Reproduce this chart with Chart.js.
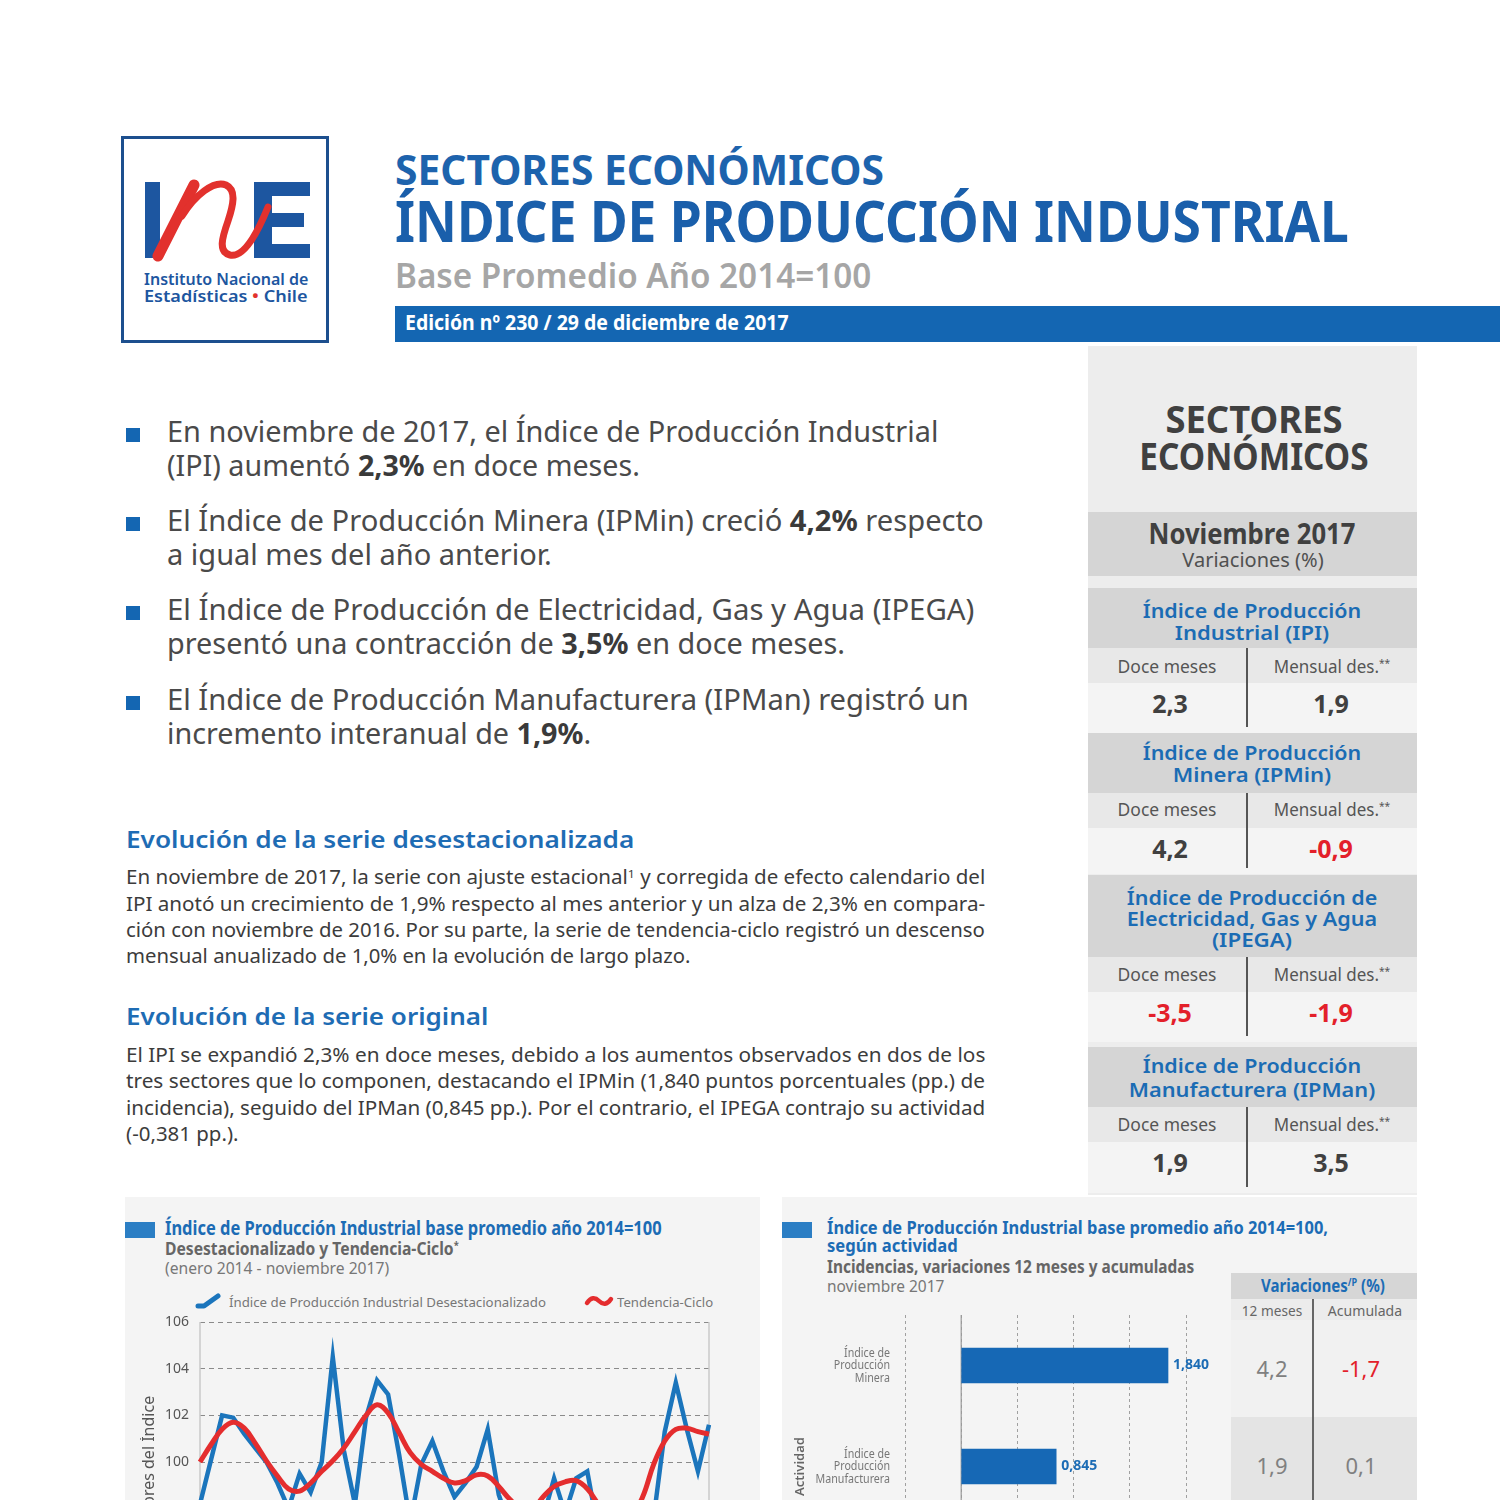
<!DOCTYPE html>
<html lang="es">
<head>
<meta charset="UTF-8">
<title>Índice de Producción Industrial</title>
<script src="https://cdn.jsdelivr.net/npm/chart.js"></script>
<style>
  body { margin: 0; width: 1500px; height: 1500px; overflow: hidden; background: #fff; position: relative;
         font-family: "Noto Sans", "Open Sans", sans-serif; }
  .t { position: absolute; white-space: nowrap; line-height: 0.85; transform-origin: 0 0; }
  .c { transform-origin: 50% 0; }
  .n { font-stretch: condensed; }
  .box { position: absolute; }
  .sup { font-size: 60%; vertical-align: 0.55em; line-height: 0; }
  .panel { position: absolute; background: #f4f4f4; }
</style>
</head>
<body>

<!-- logo -->
<svg class="box" style="left:0;top:0" width="340" height="350">
  <rect x="122.5" y="137.5" width="205" height="204" fill="#fff" stroke="#1d4f8e" stroke-width="3"/>
  <rect x="145" y="182" width="15" height="76" fill="#1d56a0"/>
  <rect x="254" y="182" width="18" height="76" fill="#1d56a0"/>
  <rect x="254" y="182" width="56" height="14" fill="#1d56a0"/>
  <rect x="254" y="213" width="50" height="14" fill="#1d56a0"/>
  <rect x="254" y="244" width="56" height="14" fill="#1d56a0"/>
  <path d="M158 256 L194 185" stroke="#e2312d" stroke-width="11" stroke-linecap="round" fill="none"/>
  <path d="M182 216 C195 195 214 180 226 185 C237 190 233 206 228 221 C222 238 218 252 230 255 C245 258 259 229 268 207"
        stroke="#e2312d" stroke-width="7" stroke-linecap="round" fill="none"/>
</svg>
<div class="t n" style="left:144px;font-size:16px;font-weight:600;color:#1d56a0" data-b="286" data-w="164">Instituto Nacional de</div>
<div class="t n" style="left:144px;font-size:16px;font-weight:600;color:#1d56a0" data-b="303" data-w="164">Estadísticas <span style="color:#e2312d">•</span> Chile</div>

<!-- cabecera -->
<div class="t n" style="left:395px;font-size:42px;font-weight:700;color:#1d63ad" data-b="185" data-w="489">SECTORES ECONÓMICOS</div>
<div class="t n" style="left:395px;font-size:57px;font-weight:700;color:#1a5fab" data-b="242" data-w="954">ÍNDICE DE PRODUCCIÓN INDUSTRIAL</div>
<div class="t n" style="left:395px;font-size:35px;font-weight:600;color:#a6a6a6" data-b="288" data-w="476">Base Promedio Año 2014=100</div>
<div class="box" style="left:395px;top:306px;width:1105px;height:36px;background:#1466b2"></div>
<div class="t n" style="left:405px;font-size:21px;font-weight:700;color:#fff" data-b="331" data-w="384">Edición nº 230 / 29 de diciembre de 2017</div>

<!-- puntos destacados -->
<div class="box" style="left:126px;top:428px;width:14px;height:14px;background:#1466b2"></div>
<div class="box" style="left:126px;top:517px;width:14px;height:14px;background:#1466b2"></div>
<div class="box" style="left:126px;top:606px;width:14px;height:14px;background:#1466b2"></div>
<div class="box" style="left:126px;top:696px;width:14px;height:14px;background:#1466b2"></div>
<div class="t n" style="left:167px;font-size:29px;color:#4a4a4a" data-b="443" data-w="771">En noviembre de 2017, el Índice de Producción Industrial</div>
<div class="t n" style="left:167px;font-size:29px;color:#4a4a4a" data-b="477" data-w="473">(IPI) aumentó <b style="color:#3a3a3a">2,3%</b> en doce meses.</div>
<div class="t n" style="left:167px;font-size:29px;color:#4a4a4a" data-b="532" data-w="817">El Índice de Producción Minera (IPMin) creció <b style="color:#3a3a3a">4,2%</b> respecto</div>
<div class="t n" style="left:167px;font-size:29px;color:#4a4a4a" data-b="566" data-w="385">a igual mes del año anterior.</div>
<div class="t n" style="left:167px;font-size:29px;color:#4a4a4a" data-b="621" data-w="807">El Índice de Producción de Electricidad, Gas y Agua (IPEGA)</div>
<div class="t n" style="left:167px;font-size:29px;color:#4a4a4a" data-b="655" data-w="678">presentó una contracción de <b style="color:#3a3a3a">3,5%</b> en doce meses.</div>
<div class="t n" style="left:167px;font-size:29px;color:#4a4a4a" data-b="711" data-w="802">El Índice de Producción Manufacturera (IPMan) registró un</div>
<div class="t n" style="left:167px;font-size:29px;color:#4a4a4a" data-b="745" data-w="424">incremento interanual de <b style="color:#3a3a3a">1,9%</b>.</div>

<!-- textos -->
<div class="t n" style="left:126px;font-size:24px;font-weight:600;color:#1e6cb4" data-b="849" data-w="508">Evolución de la serie desestacionalizada</div>
<div class="t n" style="left:126px;font-size:19px;color:#3c3c3c" data-b="884" data-w="859">En noviembre de 2017, la serie con ajuste estacional<span class="sup">1</span> y corregida de efecto calendario del</div>
<div class="t n" style="left:126px;font-size:19px;color:#3c3c3c" data-b="911" data-w="859">IPI anotó un crecimiento de 1,9% respecto al mes anterior y un alza de 2,3% en compara-</div>
<div class="t n" style="left:126px;font-size:19px;color:#3c3c3c" data-b="937" data-w="859">ción con noviembre de 2016. Por su parte, la serie de tendencia-ciclo registró un descenso</div>
<div class="t n" style="left:126px;font-size:19px;color:#3c3c3c" data-b="963" data-w="564">mensual anualizado de 1,0% en la evolución de largo plazo.</div>

<div class="t n" style="left:126px;font-size:24px;font-weight:600;color:#1e6cb4" data-b="1026" data-w="362">Evolución de la serie original</div>
<div class="t n" style="left:126px;font-size:19px;color:#3c3c3c" data-b="1062" data-w="859">El IPI se expandió 2,3% en doce meses, debido a los aumentos observados en dos de los</div>
<div class="t n" style="left:126px;font-size:19px;color:#3c3c3c" data-b="1088" data-w="859">tres sectores que lo componen, destacando el IPMin (1,840 puntos porcentuales (pp.) de</div>
<div class="t n" style="left:126px;font-size:19px;color:#3c3c3c" data-b="1115" data-w="859">incidencia), seguido del IPMan (0,845 pp.). Por el contrario, el IPEGA contrajo su actividad</div>
<div class="t n" style="left:126px;font-size:19px;color:#3c3c3c" data-b="1141" data-w="113">(-0,381 pp.).</div>

<!-- columna derecha -->
<div class="box" style="left:1088px;top:346px;width:329px;height:849px;background:#ededed"></div>
<div class="t c" style="left:1254px;font-size:37px;font-weight:700;color:#404040" data-b="433" data-w="177">SECTORES</div>
<div class="t c" style="left:1254px;font-size:37px;font-weight:700;color:#404040" data-b="470" data-w="229">ECONÓMICOS</div>

<div class="box" style="left:1088px;top:512px;width:329px;height:64px;background:#d5d5d5"></div>
<div class="t c" style="left:1252px;font-size:28px;font-weight:700;color:#404040" data-b="545" data-w="207">Noviembre 2017</div>
<div class="t c" style="left:1253px;font-size:19px;color:#505050" data-b="567" data-w="141">Variaciones (%)</div>

<div id="resumen"></div>

<!-- graficos -->
<div class="panel" style="left:125px;top:1197px;width:635px;height:303px"></div>
<div class="panel" style="left:782px;top:1197px;width:635px;height:303px"></div>

<div class="box" style="left:125px;top:1222px;width:30px;height:16px;background:#2b7ec4"></div>
<div class="t n" style="left:165px;font-size:19px;font-weight:700;color:#1c6cb5" data-b="1235" data-w="497">Índice de Producción Industrial base promedio año 2014=100</div>
<div class="t n" style="left:165px;font-size:18px;font-weight:700;color:#666" data-b="1256" data-w="294">Desestacionalizado y Tendencia-Ciclo<span class="sup">*</span></div>
<div class="t n" style="left:165px;font-size:16px;color:#777" data-b="1275" data-w="224">(enero 2014 - noviembre 2017)</div>
<svg class="box" style="left:190px;top:1290px" width="440" height="24">
  <path d="M8 16 L14 16 L28 6" stroke="#1b75bc" stroke-width="5" stroke-linecap="round" stroke-linejoin="round" fill="none"/>
  <path d="M397 13 C401 7 405 7 409 11 C413 15 417 15 421 9" stroke="#e42d2e" stroke-width="4.5" stroke-linecap="round" fill="none"/>
</svg>
<div class="t n" style="left:229px;font-size:13px;color:#777" data-b="1308" data-w="317">Índice de Producción Industrial Desestacionalizado</div>
<div class="t n" style="left:617px;font-size:13px;color:#777" data-b="1308" data-w="96">Tendencia-Ciclo</div>
<div class="box" style="left:140px;top:1310px;width:580px;height:310px"><canvas id="lineChart"></canvas></div>

<div class="box" style="left:782px;top:1222px;width:30px;height:16px;background:#2b7ec4"></div>
<div class="t n" style="left:827px;font-size:17px;font-weight:700;color:#1c6cb5" data-b="1235" data-w="501">Índice de Producción Industrial base promedio año 2014=100,</div>
<div class="t n" style="left:827px;font-size:17px;font-weight:700;color:#1c6cb5" data-b="1253" data-w="131">según actividad</div>
<div class="t n" style="left:827px;font-size:18px;font-weight:700;color:#666" data-b="1274" data-w="367">Incidencias, variaciones 12 meses y acumuladas</div>
<div class="t n" style="left:827px;font-size:16px;color:#777" data-b="1293" data-w="117">noviembre 2017</div>

<div class="box" style="left:1231px;top:1273px;width:186px;height:26px;background:#d6d6d6"></div>
<div class="box" style="left:1231px;top:1299px;width:186px;height:21px;background:#ececec"></div>
<div class="t n" style="left:1261px;font-size:17px;font-weight:700;color:#1c6cb5" data-b="1293" data-w="124">Variaciones<span class="sup">/P</span> (%)</div>
<div class="t n c" style="left:1272px;font-size:15px;color:#666" data-b="1316" data-w="60">12 meses</div>
<div class="t n c" style="left:1365px;font-size:15px;color:#666" data-b="1316" data-w="74">Acumulada</div>
<div id="tablaVar"></div>
<div class="box" style="left:790px;top:1305px;width:430px;height:340px"><canvas id="barChart"></canvas></div>

<script>
// serie mensual, enero 2014 - noviembre 2017
const mesesAbrev = ['ene', 'feb', 'mar', 'abr', 'may', 'jun', 'jul', 'ago', 'sep', 'oct', 'nov', 'dic'];
const anios = ['2014', '2015', '2016', '2017'];
const desestacionalizado = [
  98.2, 100.1, 102.0, 101.9, 101.2, 100.6, 100.0, 99.1, 98.0, 99.5, 98.7, 100.0,
  104.5, 100.5, 98.2, 101.9, 103.5, 102.9, 100.3, 97.4, 99.9, 100.9, 99.6, 98.5,
  99.1, 99.8, 101.4, 98.6, 97.2, 97.5, 96.9, 97.6, 99.3, 97.8, 99.3, 99.6,
  97.0, 96.6, 97.3, 96.9, 97.8, 97.6, 101.3, 103.4, 101.4, 99.6, 101.6
];
const tendenciaCiclo = [
  100.0, 100.75, 101.4, 101.7, 101.45, 100.8, 100.05, 99.4, 98.85, 98.75, 99.1, 99.6,
  100.05, 100.6, 101.3, 102.0, 102.45, 102.1, 101.25, 100.4, 99.9, 99.6, 99.3, 99.1,
  99.2, 99.45, 99.4, 98.95, 98.4, 98.0, 97.95, 98.5, 98.95, 99.15, 99.2, 98.85,
  98.2, 97.7, 97.5, 97.7, 98.5, 99.9, 100.9, 101.4, 101.45, 101.3, 101.2
];
const ticksIndice = [94, 96, 98, 100, 102, 104, 106];

// incidencias por actividad, noviembre 2017
const actividades = [
  ['Índice de', 'Producción', 'Minera'],
  ['Índice de', 'Producción', 'Manufacturera'],
  ['Índice de', 'Producción de', 'Electricidad, Gas', 'y Agua']
];
const incidencias = [1.840, 0.845, -0.381];
const ticksIncidencia = [-0.5, 0, 0.5, 1, 1.5, 2];
const variacion12 = ['4,2', '1,9'];
const acumulada = ['-1,7', '0,1'];

// cuadro lateral
const indices = [
  { titulo: ['Índice de Producción', 'Industrial (IPI)'], anchos: [219, 154], doce: '2,3', mensual: '1,9' },
  { titulo: ['Índice de Producción', 'Minera (IPMin)'], anchos: [219, 158], doce: '4,2', mensual: '-0,9' },
  { titulo: ['Índice de Producción de', 'Electricidad, Gas y Agua', '(IPEGA)'], anchos: [251, 251, 80], doce: '-3,5', mensual: '-1,9' },
  { titulo: ['Índice de Producción', 'Manufacturera (IPMan)'], anchos: [219, 246], doce: '1,9', mensual: '3,5' }
];
const bloques = [
  { top: 588, head: 60, lineas: [618, 640], lab: 674, val: 713, fin: 733 },
  { top: 733, head: 60, lineas: [760, 782], lab: 817, val: 858, fin: 874 },
  { top: 875, head: 82, lineas: [905, 926, 947], lab: 982, val: 1022, fin: 1042 },
  { top: 1047, head: 60, lineas: [1073, 1097], lab: 1132, val: 1172, fin: 1193 }
];

const AZUL = '#1b75bc';
const ROJO = '#e42d2e';
const FUENTE = '"Noto Sans", "Open Sans", sans-serif';

function txt(parent, html, left, base, w, css, centrado) {
  const d = document.createElement('div');
  d.className = 't' + (centrado ? ' c' : '');
  d.style.cssText = 'left:' + left + 'px;' + css;
  d.dataset.b = base;
  if (w) d.dataset.w = w;
  d.innerHTML = html;
  parent.appendChild(d);
}
function caja(parent, l, t, w, h, bg) {
  const d = document.createElement('div');
  d.className = 'box';
  d.style.cssText = 'left:' + l + 'px;top:' + t + 'px;width:' + w + 'px;height:' + h + 'px;background:' + bg;
  parent.appendChild(d);
}
const colorValor = v => v.charAt(0) === '-' ? '#e3202a' : '#404040';

const resumen = document.getElementById('resumen');
indices.forEach(function (ix, k) {
  const b = bloques[k];
  caja(resumen, 1088, b.top, 329, b.head, '#d5d5d5');
  caja(resumen, 1088, b.top + b.head, 329, 35, '#e8e8e8');
  caja(resumen, 1088, b.top + b.head + 35, 329, b.fin - b.top - b.head - 35, '#f4f4f4');
  caja(resumen, 1246, b.top + b.head, 1.5, b.fin - b.top - b.head - 6, '#555');
  ix.titulo.forEach(function (l, j) {
    txt(resumen, l, 1252, b.lineas[j], ix.anchos[j], 'font-size:19px;font-weight:600;color:#1b6cb4', true);
  });
  txt(resumen, 'Doce meses', 1167, b.lab, 99, 'font-size:18px;color:#555', true);
  txt(resumen, 'Mensual des.<span class="sup">**</span>', 1332, b.lab, 116, 'font-size:18px;color:#555', true);
  txt(resumen, ix.doce, 1170, b.val, null, 'font-size:25px;font-weight:700;color:' + colorValor(ix.doce), true);
  txt(resumen, ix.mensual, 1331, b.val, null, 'font-size:25px;font-weight:700;color:' + colorValor(ix.mensual), true);
});

const tabla = document.getElementById('tablaVar');
const filas = [[1320, 97, '#f1f1f1', 1377], [1417, 101, '#e4e4e4', 1474]];
variacion12.forEach(function (v, i) {
  const f = filas[i];
  caja(tabla, 1231, f[0], 186, f[1], f[2]);
  txt(tabla, v, 1272, f[3], null, 'font-size:22px;color:' + (v.charAt(0) === '-' ? '#e3202a' : '#808080'), true);
  txt(tabla, acumulada[i], 1361, f[3], null, 'font-size:22px;color:' + (acumulada[i].charAt(0) === '-' ? '#e3202a' : '#808080'), true);
});
caja(tabla, 1312, 1299, 2, 220, '#666');

// ubicar textos: linea base y ancho del original (line-height .85)
function ubicar() {
  document.querySelectorAll('.t').forEach(function (el) {
    const fs = parseFloat(getComputedStyle(el).fontSize);
    if (el.dataset.b) el.style.top = (el.dataset.b - 0.813 * fs) + 'px';
    const c = el.classList.contains('c');
    let tr = c ? 'translateX(-50%)' : '';
    if (el.dataset.w) tr += ' scaleX(' + (el.dataset.w / el.offsetWidth) + ')';
    el.style.transform = tr || 'none';
  });
}
ubicar();
document.fonts.ready.then(ubicar);

// sin relleno extra por etiquetas que sobresalen
function sinRelleno(s) {
  s.paddingTop = 0; s.paddingBottom = 0; s.paddingLeft = 0; s.paddingRight = 0;
}

// --- grafico de lineas ---
const meses = [];
anios.forEach(function (a) {
  mesesAbrev.forEach(function (m) {
    if (meses.length < desestacionalizado.length) meses.push(m + '-' + a.slice(2));
  });
});

const marco = {
  id: 'marco',
  beforeDatasetsDraw(chart) {
    const { ctx, chartArea: a } = chart;
    ctx.save();
    ctx.strokeStyle = '#c9c9c9';
    ctx.lineWidth = 1.5;
    ctx.beginPath();
    ctx.moveTo(a.left, a.top); ctx.lineTo(a.left, a.bottom);
    ctx.moveTo(a.right, a.top); ctx.lineTo(a.right, a.bottom);
    ctx.stroke();
    ctx.restore();
  }
};

new Chart(document.getElementById('lineChart'), {
  type: 'line',
  data: {
    labels: meses,
    datasets: [
      { label: 'Tendencia-Ciclo', data: tendenciaCiclo, borderColor: ROJO, borderWidth: 5,
        tension: 0.4, pointRadius: 0, order: 1 },
      { label: 'Índice de Producción Industrial Desestacionalizado', data: desestacionalizado,
        borderColor: AZUL, borderWidth: 4.5, tension: 0, pointRadius: 0, order: 2 }
    ]
  },
  options: {
    responsive: true,
    maintainAspectRatio: false,
    animation: false,
    layout: { padding: { top: 12, right: 11, left: 0, bottom: 0 } },
    plugins: { legend: { display: false }, tooltip: { enabled: false } },
    scales: {
      x: {
        grid: { display: false, drawTicks: false },
        border: { display: false },
        ticks: { color: '#555', font: { size: 12, family: FUENTE }, maxRotation: 0 },
        afterFit: s => { s.height = 18; sinRelleno(s); }
      },
      y: {
        min: ticksIndice[0],
        max: ticksIndice[ticksIndice.length - 1],
        ticks: { stepSize: ticksIndice[1] - ticksIndice[0], padding: 11, color: '#555',
                 font: { size: 14, family: FUENTE } },
        grid: { color: '#8a8a8a', lineWidth: 1, drawTicks: false },
        border: { display: false, dash: [5, 4] },
        title: { display: true, text: 'Valores del Índice', color: '#555',
                 font: { size: 16, family: FUENTE }, padding: 0 },
        afterFit: s => { s.width = 60; sinRelleno(s); }
      }
    }
  },
  plugins: [marco]
});

// --- grafico de barras ---
const lineaCero = {
  id: 'lineaCero',
  beforeDatasetsDraw(chart) {
    const { ctx, chartArea: a } = chart;
    const x = chart.scales.x.getPixelForValue(0);
    ctx.save();
    ctx.strokeStyle = '#9a9a9a';
    ctx.lineWidth = 1.2;
    ctx.beginPath(); ctx.moveTo(x, a.top); ctx.lineTo(x, a.bottom); ctx.stroke();
    ctx.restore();
  }
};
const etiquetas = {
  id: 'etiquetas',
  afterDatasetsDraw(chart) {
    const ctx = chart.ctx;
    const vals = chart.data.datasets[0].data;
    ctx.save();
    ctx.font = '700 14px ' + FUENTE;
    ctx.fillStyle = '#1c6cb5';
    ctx.textBaseline = 'middle';
    chart.getDatasetMeta(0).data.forEach(function (bar, i) {
      const v = vals[i];
      ctx.textAlign = v >= 0 ? 'left' : 'right';
      ctx.fillText(v.toFixed(3).replace('.', ','), v >= 0 ? bar.x + 5 : bar.x - 5, bar.y);
    });
    ctx.restore();
  }
};
// etiquetas de categoria, algo angostas como en el original
const categorias = {
  id: 'categorias',
  afterDraw(chart) {
    const s = chart.scales.y;
    const ctx = chart.ctx;
    const paso = 12.3;
    ctx.save();
    ctx.font = '13px ' + FUENTE;
    ctx.fillStyle = '#777';
    ctx.textAlign = 'right';
    ctx.textBaseline = 'middle';
    s.ticks.forEach(function (t, i) {
      const lineas = chart.data.labels[i];
      const y0 = s.getPixelForTick(i) - (lineas.length - 1) * paso / 2;
      lineas.forEach(function (l, j) {
        ctx.save();
        ctx.translate(s.right - 15, y0 + j * paso);
        ctx.scale(0.82, 1);
        ctx.fillText(l, 0, 0);
        ctx.restore();
      });
    });
    ctx.restore();
  }
};

new Chart(document.getElementById('barChart'), {
  type: 'bar',
  data: {
    labels: actividades,
    datasets: [{ label: 'Incidencia', data: incidencias, backgroundColor: '#1668b5', barThickness: 35 }]
  },
  options: {
    indexAxis: 'y',
    responsive: true,
    maintainAspectRatio: false,
    animation: false,
    layout: { padding: { top: 10, right: 34, left: 0, bottom: 0 } },
    plugins: { legend: { display: false }, tooltip: { enabled: false } },
    scales: {
      x: {
        min: ticksIncidencia[0],
        max: ticksIncidencia[ticksIncidencia.length - 1],
        ticks: { stepSize: ticksIncidencia[1] - ticksIncidencia[0], color: '#666',
                 font: { size: 12, family: FUENTE },
                 callback: v => String(v).replace('.', ',') },
        grid: { color: '#a0a0a0', lineWidth: 1, drawTicks: false },
        border: { display: false, dash: [3, 3] },
        afterFit: s => { s.height = 27; sinRelleno(s); }
      },
      y: {
        grid: { display: false, drawTicks: false },
        border: { display: false },
        ticks: { display: false },
        title: { display: true, text: 'Actividad', color: '#666',
                 font: { size: 13, weight: '600', family: FUENTE }, padding: { top: 2, bottom: 0 } },
        afterFit: s => { s.width = 115; sinRelleno(s); }
      }
    }
  },
  plugins: [lineaCero, etiquetas, categorias]
});
</script>
</body>
</html>
